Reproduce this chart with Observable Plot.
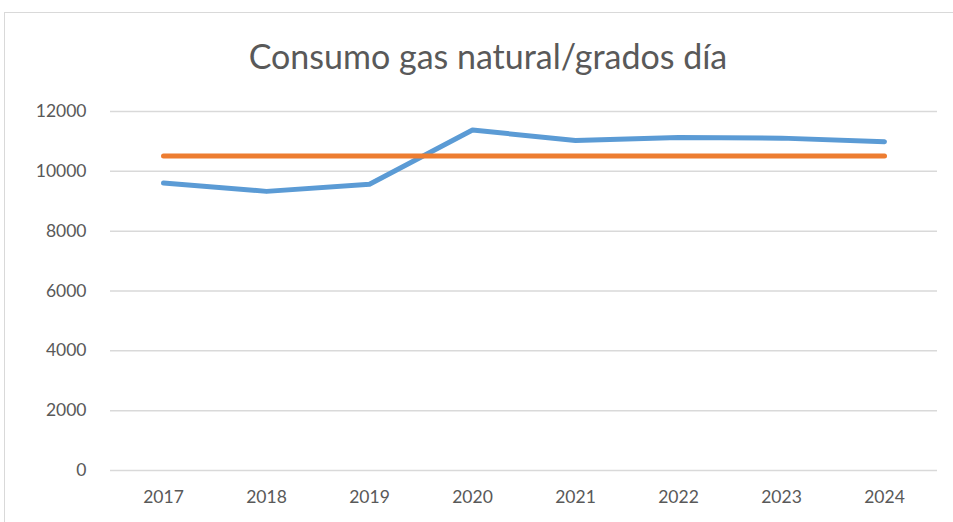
<!DOCTYPE html>
<html><head><meta charset="utf-8">
<script src="https://cdn.jsdelivr.net/npm/d3@7"></script>
<script src="https://cdn.jsdelivr.net/npm/@observablehq/plot@0.6"></script>
<style>
body{margin:0;background:#fff;}
#wrap{position:relative;width:953px;height:522px;overflow:hidden;font-family:Lato,"Open Sans",sans-serif;}
#frame{position:absolute;left:4px;top:12px;width:960px;height:520px;border:1px solid #d9d9d9;box-sizing:border-box;}
#title{position:absolute;left:0;top:35px;width:976px;text-align:center;font-size:34px;color:#595959;}
#chart{position:absolute;left:0;top:0;}
</style></head>
<body><div id="wrap"><div id="frame"></div><div id="chart"></div><div id="title">Consumo gas natural/grados día</div></div>
<script>
const years = ["2017","2018","2019","2020","2021","2022","2023","2024"];
const consumo = [9610, 9330, 9570, 11380, 11030, 11130, 11110, 10990];
const referencia = [10510, 10510, 10510, 10510, 10510, 10510, 10510, 10510];
const yTicks = [0, 2000, 4000, 6000, 8000, 10000, 12000];

const blue = years.map((y, i) => ({year: y, value: consumo[i]}));
const orange = years.map((y, i) => ({year: y, value: referencia[i]}));

const plot = Plot.plot({
  width: 953,
  height: 522,
  marginLeft: 110,
  marginRight: 16,
  marginTop: 111,
  marginBottom: 52,
  style: {fontFamily: "Lato, 'Open Sans', sans-serif", fontSize: "17px", color: "#595959", background: "transparent"},
  x: {type: "point", domain: years, padding: 0.5, label: null},
  y: {domain: [0, 12000], label: null},
  marks: [
    Plot.gridY(yTicks, {stroke: "#d9d9d9", strokeOpacity: 1, strokeWidth: 1.5}),
    Plot.axisY(yTicks, {tickSize: 0, tickPadding: 24, tickFormat: d => String(d), fill: "#595959", fontSize: 17.5}),
    Plot.axisX({tickSize: 0, tickPadding: 20, fill: "#595959", fontSize: 17.5}),
    Plot.line(blue, {x: "year", y: "value", stroke: "#5B9BD5", strokeWidth: 5, strokeLinecap: "round", strokeLinejoin: "round"}),
    Plot.line(orange, {x: "year", y: "value", stroke: "#ED7D31", strokeWidth: 5, strokeLinecap: "round"})
  ]
});
document.getElementById("chart").appendChild(plot);
</script></body></html>
